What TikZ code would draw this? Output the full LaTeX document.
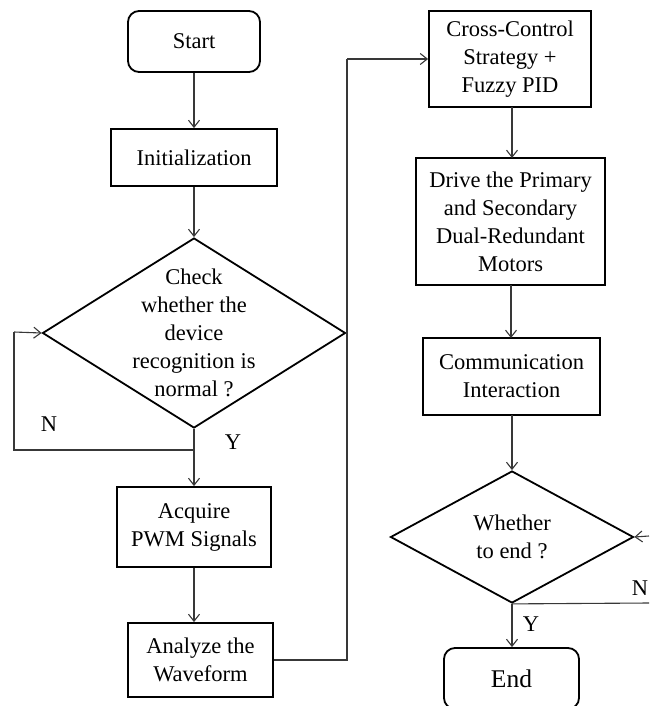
\documentclass[tikz,border=0pt]{standalone}
\usepackage{fontspec}
\setmainfont{Liberation Serif}
\usetikzlibrary{shapes.geometric,arrows.meta}
\begin{document}
\begin{tikzpicture}[x=1pt,y=-1pt,
  every node/.style={font=\fontsize{22.5}{28}\selectfont, inner sep=0pt},
  procbox/.style={draw=black, line width=1.8pt, align=center},
  termbox/.style={draw=black, line width=1.8pt, rounded corners=11pt, align=center},
  decbox/.style={draw=black, line width=1.8pt, diamond},
  conn/.style={draw=black!78, line width=1.1pt},
  arr/.style={conn, -{Straight Barb[length=7pt,width=11pt]}},
  lbl/.style={}]
\useasboundingbox (0,0) rectangle (649,706);
% left column
\node[termbox, minimum width=132pt, minimum height=61pt] (start) at (194,41.5) {Start};
\node[procbox, minimum width=166pt, minimum height=57pt] (init) at (194,157.5) {Initialization};
\node[decbox, minimum width=303pt, minimum height=190pt] (d1) at (194,333) {};
\node[align=center] (d1t) at (194,333) {Check\\whether the\\device\\recognition is\\normal ?};
\node[procbox, minimum width=154pt, minimum height=80pt] (acq) at (194,527) {Acquire\\PWM Signals};
\node[procbox, minimum width=145pt, minimum height=74pt] (ana) at (200.5,660) {Analyze the\\Waveform};
% right column
\node[procbox, minimum width=162pt, minimum height=96pt] (cross) at (510,59) {Cross-Control\\Strategy +\\Fuzzy PID};
\node[procbox, minimum width=189pt, minimum height=127pt] (drive) at (510.5,221.5) {Drive the Primary\\and Secondary\\Dual-Redundant\\Motors};
\node[procbox, minimum width=177pt, minimum height=77pt] (comm) at (511.5,376.5) {Communication\\Interaction};
\node[decbox, minimum width=243pt, minimum height=132pt] (d2) at (512,537) {};
\node[align=center] (d2t) at (512,537) {Whether\\to end ?};
\node[termbox, minimum width=135pt, minimum height=61pt, font=\fontsize{25.5}{30}\selectfont] (endn) at (511.5,678.5) {End};
% coordinates
\coordinate (lb1) at (194,450);
\coordinate (lb2) at (14,450);
\coordinate (lb3) at (14,332);
\coordinate (rt1) at (347,660);
\coordinate (rt2) at (347,59);
\coordinate (nin) at (649,536);
\coordinate (nout) at (649,603);
% connectors
\draw[arr] (start.south) -- (init.north);
\draw[arr] (init.south) -- (d1.north);
\draw[arr] (d1.south) -- (acq.north);
\draw[conn] (lb1) -- (lb2) -- (lb3);
\draw[arr] (lb3) -- (d1.west);
\draw[arr] (acq.south) -- (acq.south |- ana.north);
\draw[conn] (ana.east) -- (rt1) -- (rt2);
\draw[arr] (rt2) -- (rt2 -| cross.west);
\draw[arr] (512,107) -- (512,158);
\draw[arr] (511,285) -- (511,338);
\draw[arr] (512,415) -- (d2.north);
\draw[arr] (nin) -- (d2.east);
\draw[conn] (d2.south) -- (nout);
\draw[arr] (d2.south) -- (d2.south |- endn.north);
% labels
\node[lbl] (n1) at (49,424) {N};
\node[lbl] (y1) at (233,442) {Y};
\node[lbl] (n2) at (640,588) {N};
\node[lbl] (y2) at (531,624) {Y};
\end{tikzpicture}
\end{document}
